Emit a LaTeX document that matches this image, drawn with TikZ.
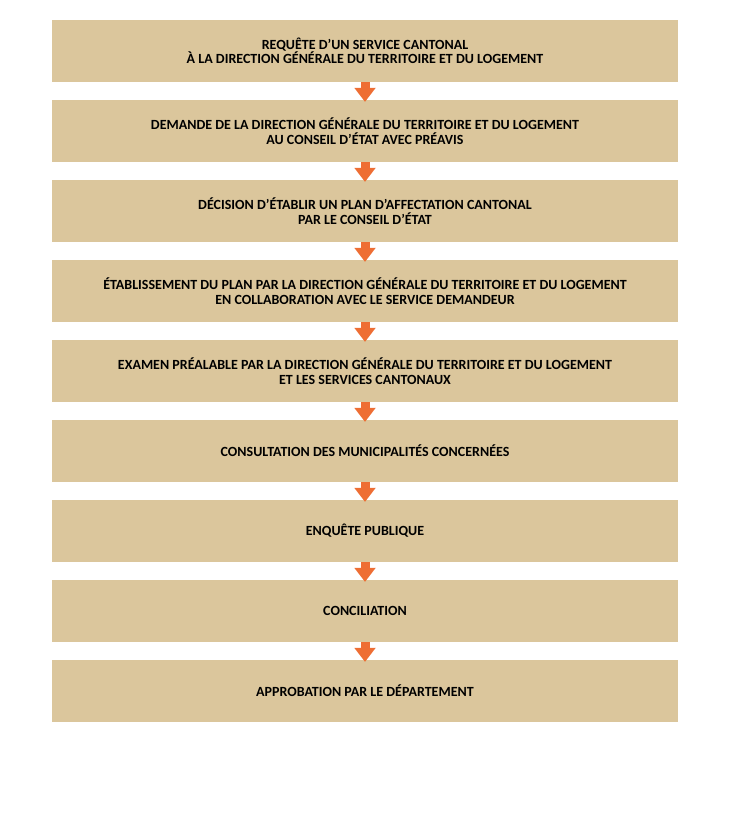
\documentclass[tikz,border=0pt]{standalone}
\usepackage{fontspec}
\setmainfont{Carlito}
\usetikzlibrary{arrows.meta}
\definecolor{boxc}{RGB}{219,198,156}
\definecolor{arrc}{RGB}{238,110,52}
\begin{document}
\begin{tikzpicture}[x=1pt,y=-1pt,
  stepbox/.style={fill=boxc,minimum width=626pt,minimum height=62pt,inner sep=0pt,
    align=center,font=\bfseries\fontsize{14}{14.5}\selectfont},
  flow/.style={draw=arrc,line width=9pt,shorten >=-2pt,
    -{Triangle[width=21.5pt,length=14pt,line width=0pt]}}]
\useasboundingbox (0,0) rectangle (730,824);
\node[stepbox] (b1) at (365,51) {REQUÊTE D’UN SERVICE CANTONAL\\À LA DIRECTION GÉNÉRALE DU TERRITOIRE ET DU LOGEMENT};
\node[stepbox] (b2) at (365,131) {DEMANDE DE LA DIRECTION GÉNÉRALE DU TERRITOIRE ET DU LOGEMENT\\AU CONSEIL D’ÉTAT AVEC PRÉAVIS};
\node[stepbox] (b3) at (365,211) {DÉCISION D’ÉTABLIR UN PLAN D’AFFECTATION CANTONAL\\PAR LE CONSEIL D’ÉTAT};
\node[stepbox] (b4) at (365,291) {ÉTABLISSEMENT DU PLAN PAR LA DIRECTION GÉNÉRALE DU TERRITOIRE ET DU LOGEMENT\\EN COLLABORATION AVEC LE SERVICE DEMANDEUR};
\node[stepbox] (b5) at (365,371) {EXAMEN PRÉALABLE PAR LA DIRECTION GÉNÉRALE DU TERRITOIRE ET DU LOGEMENT\\ET LES SERVICES CANTONAUX};
\node[stepbox] (b6) at (365,451) {CONSULTATION DES MUNICIPALITÉS CONCERNÉES};
\node[stepbox] (b7) at (365,531) {ENQUÊTE PUBLIQUE};
\node[stepbox] (b8) at (365,611) {CONCILIATION};
\node[stepbox] (b9) at (365,691) {APPROBATION PAR LE DÉPARTEMENT};
\foreach \a/\b in {b1/b2,b2/b3,b3/b4,b4/b5,b5/b6,b6/b7,b7/b8,b8/b9}
  \draw[flow] (\a.south) -- (\b.north);
\end{tikzpicture}
\end{document}
